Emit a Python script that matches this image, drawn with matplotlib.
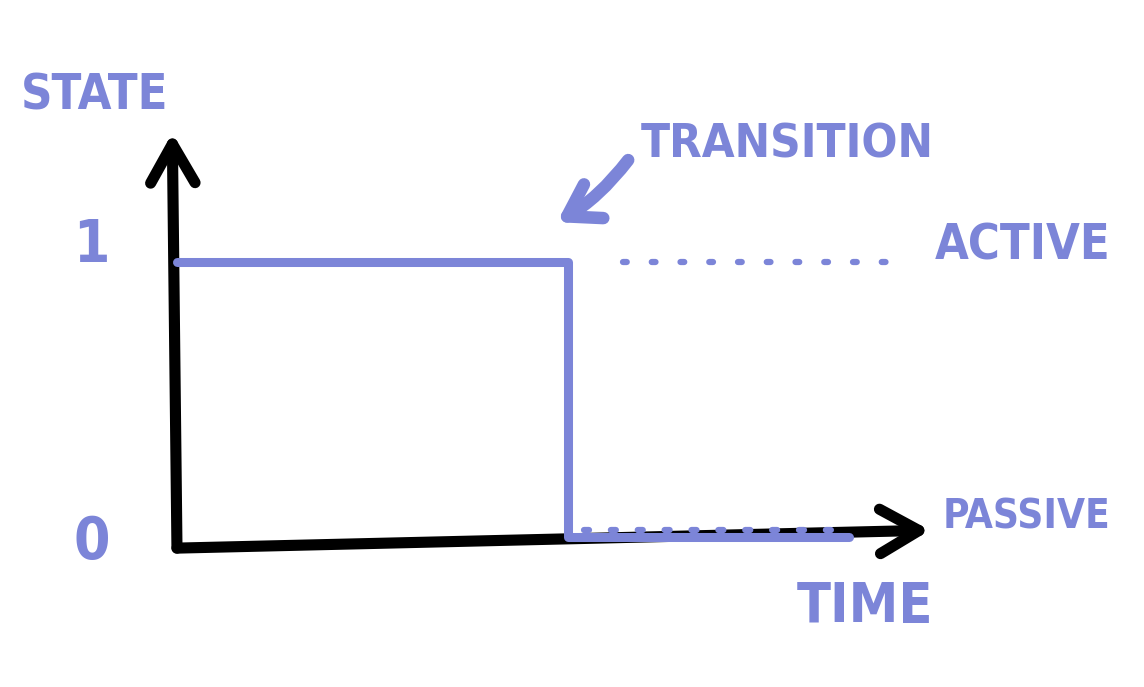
import matplotlib
matplotlib.use("Agg")
import matplotlib.pyplot as plt

# state of the signal over time
step_time = [0, 5, 5, 8.6]
step_state = [1, 1, 0, 0]

# dotted guide for the "active" level after the transition
active_time = [5.7, 9.1]
active_state = [1, 1]

# bumps along the passive level
passive_time = [5.2, 8.5]
passive_state = [0.025, 0.025]

blue = '#7c85d8'
font = ['DejaVu Sans']

fig = plt.figure(figsize=(11.44, 6.87), dpi=100)
ax = fig.add_axes([0, 0, 1, 1])
ax.set_xlim(-2.263, 12.366)
ax.set_ylim(-0.545, 1.953)
ax.axis('off')

# hand drawn axes
head = '->, head_length=1.4, head_width=0.8'
ax.annotate('', xy=(-0.06, 1.47), xytext=(0, -0.04),
            arrowprops=dict(arrowstyle=head, lw=8, color='black',
                            mutation_scale=20, capstyle='round',
                            joinstyle='round', shrinkA=0, shrinkB=0),
            zorder=2)
ax.annotate('', xy=(9.63, 0.025), xytext=(0, -0.04),
            arrowprops=dict(arrowstyle=head, lw=8, color='black',
                            mutation_scale=20, capstyle='round',
                            joinstyle='round', shrinkA=0, shrinkB=0),
            zorder=2)

ax.plot(step_time, step_state, color=blue, lw=6.5, zorder=4,
        solid_capstyle='round', solid_joinstyle='round')
ax.plot(active_time, active_state, color=blue, lw=4.5, zorder=4,
        linestyle=(0, (0.6, 4)), dash_capstyle='round')
ax.plot(passive_time, passive_state, color=blue, lw=4.5, zorder=4,
        linestyle=(0, (0.8, 3.5)), dash_capstyle='round')

# transition pointer
ax.annotate('', xy=(4.86, 1.145), xytext=(5.77, 1.371),
            arrowprops=dict(arrowstyle='->, head_length=1.1, head_width=0.7',
                            lw=9, color=blue, mutation_scale=20,
                            connectionstyle='arc3,rad=-0.1',
                            capstyle='round', joinstyle='round',
                            shrinkA=0, shrinkB=0))

txt = dict(color=blue, fontweight='bold', family=font,
           fontstretch='condensed', ha='center', va='center')
ax.text(-1.05, 1.607, 'STATE', fontsize=35, **txt)
ax.text(-1.09, 1.06, '1', fontsize=42, **txt)
ax.text(-1.09, -0.02, '0', fontsize=42, **txt)
ax.text(7.80, 1.425, 'TRANSITION', fontsize=34, **txt)
ax.text(10.82, 1.062, 'ACTIVE', fontsize=35, **txt)
ax.text(10.86, 0.073, 'PASSIVE', fontsize=29, **txt)
ax.text(8.80, -0.255, 'TIME', fontsize=40, **txt)

fig.savefig('out.png', dpi=100, facecolor='white')
